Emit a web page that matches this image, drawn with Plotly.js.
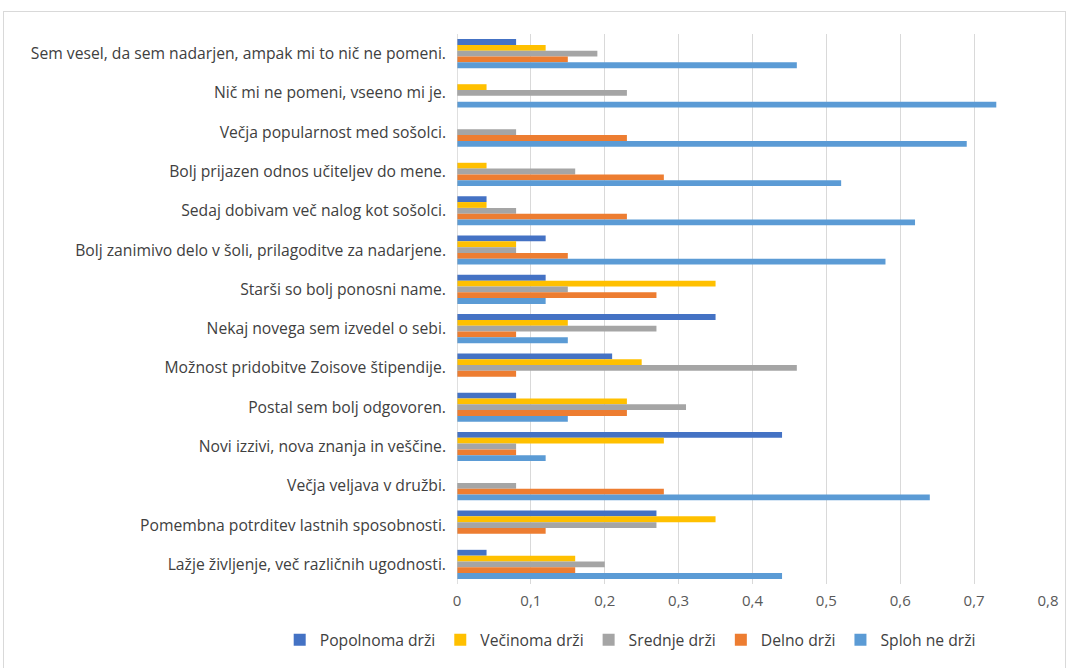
<!DOCTYPE html>
<html>
<head>
<meta charset="utf-8">
<script src="https://cdn.plot.ly/plotly-3.0.1.min.js"></script>
<style>
  html, body { margin: 0; padding: 0; background: #fff; }
  #chart { width: 1067px; height: 668px; }
  #frame { position: absolute; left: 3px; top: 11px; width: 1061px; height: 670px; border: 1px solid #d9d9d9; pointer-events: none; }
</style>
</head>
<body>
<div id="chart"></div>
<div id="frame"></div>
<script>
const categories = [
  "Sem vesel, da sem nadarjen, ampak mi to nič ne pomeni.",
  "Nič mi ne pomeni, vseeno mi je.",
  "Večja popularnost med sošolci.",
  "Bolj prijazen odnos učiteljev do mene.",
  "Sedaj dobivam več nalog kot sošolci.",
  "Bolj zanimivo delo v šoli, prilagoditve za nadarjene.",
  "Starši so bolj ponosni name.",
  "Nekaj novega sem izvedel o sebi.",
  "Možnost pridobitve Zoisove štipendije.",
  "Postal sem bolj odgovoren.",
  "Novi izzivi, nova znanja in veščine.",
  "Večja veljava v družbi.",
  "Pomembna potrditev lastnih sposobnosti.",
  "Lažje življenje, več različnih ugodnosti."
];
const seriesNames = ["Popolnoma drži", "Večinoma drži", "Srednje drži", "Delno drži", "Sploh ne drži"];
const popolnoma = [0.08, 0, 0, 0, 0.04, 0.12, 0.12, 0.35, 0.21, 0.08, 0.44, 0, 0.27, 0.04];
const vecinoma  = [0.12, 0.04, 0, 0.04, 0.04, 0.08, 0.35, 0.15, 0.25, 0.23, 0.28, 0, 0.35, 0.16];
const srednje   = [0.19, 0.23, 0.08, 0.16, 0.08, 0.08, 0.15, 0.27, 0.46, 0.31, 0.08, 0.08, 0.27, 0.20];
const delno     = [0.15, 0, 0.23, 0.28, 0.23, 0.15, 0.27, 0.08, 0.08, 0.23, 0.08, 0.28, 0.12, 0.16];
const sploh     = [0.46, 0.73, 0.69, 0.52, 0.62, 0.58, 0.12, 0.15, 0, 0.15, 0.12, 0.64, 0, 0.44];
const tickVals  = [0, 0.1, 0.2, 0.3, 0.4, 0.5, 0.6, 0.7, 0.8];
const tickText  = ["0", "0,1", "0,2", "0,3", "0,4", "0,5", "0,6", "0,7", "0,8"];

const colors = ["#4472C4", "#FFC000", "#A5A5A5", "#ED7D31", "#5B9BD5"];
const values = [popolnoma, vecinoma, srednje, delno, sploh];

const data = values.map((v, i) => ({
  type: "bar",
  orientation: "h",
  name: seriesNames[i],
  x: v,
  y: categories,
  marker: { color: colors[i], line: { width: 0 } },
  hoverinfo: "x+name"
}));

const layout = {
  width: 1067,
  height: 668,
  margin: { l: 457, r: 19, t: 34, b: 83 },
  paper_bgcolor: "#ffffff",
  plot_bgcolor: "#ffffff",
  font: { family: "Open Sans, Noto Sans, sans-serif", color: "#404040", size: 15 },
  barmode: "group",
  bargap: 0.26,
  bargroupgap: 0,
  showlegend: true,
  legend: {
    orientation: "h",
    xref: "paper",
    yref: "paper",
    x: -0.3, xanchor: "left",
    y: -0.1, yanchor: "middle",
    traceorder: "normal",
    font: { size: 15.7, color: "#404040" },
    itemwidth: 30
  },
  xaxis: {
    range: [0, 0.8],
    tickvals: tickVals,
    ticktext: tickText,
    showgrid: true,
    gridcolor: "#d9d9d9",
    gridwidth: 1,
    zeroline: false,
    showline: false,
    ticks: "",
    ticklabelstandoff: 6,
    tickfont: { size: 15, color: "#595959" },
    fixedrange: true
  },
  yaxis: {
    type: "category",
    autorange: "reversed",
    showgrid: false,
    zeroline: false,
    showline: false,
    ticks: "",
    ticklabelstandoff: 10,
    tickfont: { size: 15.7, color: "#404040" },
    fixedrange: true
  },
  shapes: [{
    type: "line", xref: "x", yref: "paper",
    x0: 0, x1: 0, y0: 0, y1: 1,
    line: { color: "#bfbfbf", width: 1 }
  }]
};

Plotly.newPlot("chart", data, layout, { displayModeBar: false, staticPlot: true });
</script>
</body>
</html>
